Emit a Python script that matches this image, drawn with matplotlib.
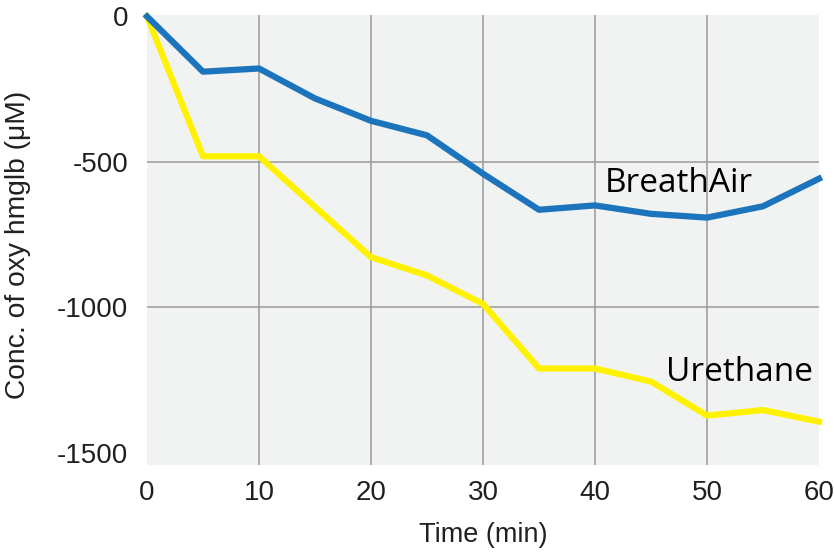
import numpy as np
import matplotlib
matplotlib.use('Agg')
import matplotlib.pyplot as plt

# Data
time = [0, 5, 10, 15, 20, 25, 30, 35, 40, 45, 50, 55, 60]
breathair = [0, -190, -179, -282, -359, -409, -541, -665, -650, -679, -692, -653, -558]
urethane = [0, -481, -481, -655, -828, -891, -989, -1211, -1211, -1256, -1373, -1354, -1394]

xticks = [0, 10, 20, 30, 40, 50, 60]
yticks = [0, -500, -1000, -1500]

plt.rcParams['axes.unicode_minus'] = False

fig = plt.figure(figsize=(8.34, 5.6), dpi=100)
ax = fig.add_axes([147 / 834, 95 / 560, 672 / 834, 450 / 560])
ax.set_facecolor('#f1f2f2')

ax.plot(time, urethane, color='#fff200', lw=4.5, clip_on=False, zorder=3)
ax.plot(time, breathair, color='#1c75bc', lw=4.5, clip_on=False, zorder=4)

ax.set_xlim(0, 60)
ax.set_ylim(-1543, 5)
ax.set_xticks(xticks)
ax.set_yticks(yticks)

# grid only on the inner ticks
for x in xticks[1:-1]:
    ax.axvline(x, color='#9a9a9a', lw=1.1, zorder=1)
for y in yticks[1:-1]:
    ax.axhline(y, color='#9a9a9a', lw=1.1, zorder=1)

for s in ax.spines.values():
    s.set_visible(False)
ax.tick_params(length=0, labelsize=20, colors='#231f20')
ax.tick_params(axis='x', pad=10.5)
ax.tick_params(axis='y', pad=13.5)
for lab in ax.get_xticklabels() + ax.get_yticklabels():
    lab.set_fontfamily('Liberation Sans')

ax.set_xlabel('Time (min)', fontsize=19.5, family='Liberation Sans', color='#231f20')
ax.set_ylabel('Conc. of oxy hmglb (\u03bcM)', fontsize=20.3, family='Liberation Sans', color='#231f20')
ax.xaxis.set_label_coords(0.5, -0.127)
ax.yaxis.set_label_coords(-0.172, 0.489)

ax.text(40.9, -574, 'BreathAir', fontsize=24, family='Open Sans', color='black', va='center')
ax.text(46.3, -1226, 'Urethane', fontsize=24, family='Open Sans', color='black', va='center')

plt.savefig('out.png', dpi=100)
